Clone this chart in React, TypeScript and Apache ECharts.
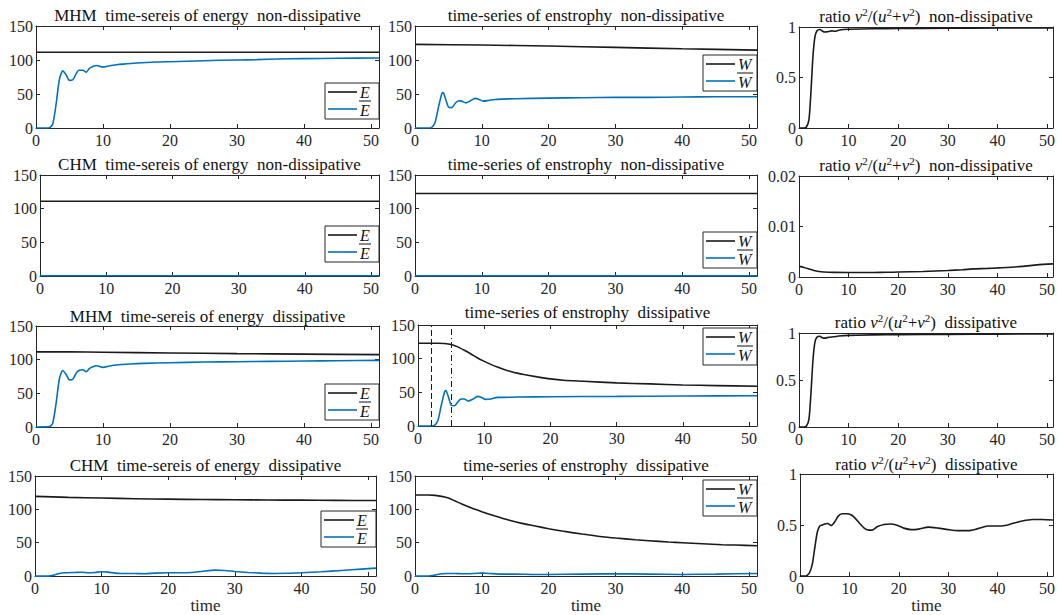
import React, { useEffect, useRef } from 'react';
import * as echarts from 'echarts';

const XMAX = 51.2;
const X_TICK_STEP = 10;

// ---------- Row 1: non-dissipative MHM ----------
const mhmNdE = [[0, 111.3], [XMAX, 111.3]];
const mhmNdEbar = [[0, 0], [1, 0], [2, 0.5], [2.5, 6], [3, 35], [3.5, 72], [4, 84], [4.5, 78], [5, 70], [5.5, 71], [6, 80], [6.4, 85], [7, 85], [7.5, 82], [8, 88], [9, 92], [10, 89.5], [11, 91.5], [12, 93], [13, 94], [15, 95.5], [18, 97], [20, 97.5], [25, 99], [30, 100], [33, 100.5], [36, 101.5], [40, 102], [45, 102.5], [XMAX, 103]];
const enstNdW = [[0, 123], [10, 122], [20, 120.5], [30, 118.5], [40, 116.5], [XMAX, 114.5]];
const enstNdWbar = [[0, 0], [2, 0], [2.5, 1], [3, 8], [3.5, 30], [4, 50], [4.2, 52], [4.6, 42], [5, 31], [5.5, 30], [6, 36], [6.5, 40], [7, 39.5], [7.6, 37], [8.3, 40], [9, 43.5], [9.6, 42], [10.2, 39.5], [11, 40.5], [12, 42], [13, 42.5], [15, 43], [20, 44], [25, 44.5], [30, 45], [35, 45], [40, 45.5], [45, 46], [XMAX, 46]];
const ratioNd = [[0, 0], [1, 0], [1.5, 0.01], [2, 0.08], [2.4, 0.35], [2.8, 0.7], [3.2, 0.9], [3.6, 0.96], [4.2, 0.975], [4.7, 0.96], [5.2, 0.95], [6, 0.955], [6.6, 0.962], [7.2, 0.958], [8, 0.968], [9, 0.975], [10, 0.978], [15, 0.983], [20, 0.985], [30, 0.988], [40, 0.99], [XMAX, 0.99]];

// ---------- Row 2: non-dissipative CHM ----------
const chmNdE = [[0, 111], [XMAX, 111]];
const chmNdEbar = [[0, 0.3], [XMAX, 0.3]];
const enstNd2W = [[0, 122.5], [XMAX, 122.5]];
const enstNd2Wbar = [[0, 0.2], [XMAX, 0.2]];
const ratioNd2 = [[0, 0.0021], [1, 0.0019], [2, 0.0016], [3, 0.0013], [4, 0.0011], [5, 0.001], [7, 0.00092], [10, 0.0009], [15, 0.0009], [18, 0.00093], [20, 0.00098], [25, 0.0011], [30, 0.0013], [33, 0.00145], [35, 0.0016], [38, 0.0017], [40, 0.0018], [45, 0.0021], [48, 0.0024], [XMAX, 0.0026]];

// ---------- Row 3: dissipative MHM ----------
const mhmDE = [[0, 111.5], [5, 111.5], [10, 111], [20, 110], [30, 109], [40, 108.3], [XMAX, 107.5]];
const mhmDEbar = [[0, 0], [2, 0.5], [2.5, 6], [3, 35], [3.5, 72], [4, 84], [4.5, 78], [5, 70], [5.5, 71], [6, 80], [6.4, 84], [7, 85], [7.5, 82], [8, 87], [9, 91], [10, 88.5], [11, 90.5], [12, 92], [14, 93.5], [16, 94.5], [20, 95.5], [25, 96.5], [30, 97], [35, 97.5], [40, 98], [45, 98.5], [XMAX, 99]];
const enstDW = [[0, 123], [3, 123], [4, 122.5], [5, 121], [6, 117.5], [7, 112.5], [8, 107], [9, 101], [10, 96], [11, 91.5], [12, 87.5], [13, 84], [14, 81], [15, 78.5], [16, 76.5], [18, 73], [20, 70], [22, 68], [25, 66.5], [30, 64], [35, 62.5], [40, 61], [45, 60], [XMAX, 59]];
const enstDWbar = [[0, 0], [2, 0], [2.5, 1], [3, 8], [3.5, 30], [4, 50], [4.2, 52.5], [4.6, 43], [5, 31], [5.5, 30], [6, 35.5], [6.5, 40], [7, 40], [7.6, 37], [8.3, 40], [9, 44], [9.6, 42.5], [10.2, 39.5], [11, 40], [12, 42.5], [13, 42.5], [15, 43], [20, 43.5], [30, 44], [40, 44.5], [XMAX, 45]];
const ratioD = [[0, 0], [1, 0], [1.5, 0.01], [2, 0.08], [2.4, 0.35], [2.8, 0.7], [3.2, 0.9], [3.6, 0.955], [4.2, 0.965], [4.7, 0.95], [5.2, 0.945], [6, 0.955], [7, 0.96], [8, 0.968], [10, 0.975], [15, 0.98], [20, 0.983], [30, 0.985], [40, 0.988], [XMAX, 0.99]];
const markTimes = [2, 5];

// ---------- Row 4: dissipative CHM ----------
const chmDE = [[0, 119.5], [5, 118], [10, 117], [15, 116], [20, 115.3], [25, 114.8], [30, 114.4], [35, 114], [40, 113.8], [45, 113.5], [XMAX, 113.2]];
const chmDEbar = [[0, 0], [2, 0], [2.8, 1.5], [3.5, 3.5], [4.5, 5], [6, 5.5], [7, 5.8], [8, 5], [9, 5.5], [10, 6.5], [11, 6], [12, 4.5], [13, 4], [15, 4], [16.5, 3.5], [18, 4.5], [20, 5], [22, 5], [23.5, 5.5], [25, 7], [27, 9], [28.5, 8.5], [30, 7], [32, 5.5], [34, 4.5], [36, 4], [38, 4.2], [40, 5], [43, 6.5], [46, 8.5], [49, 10.5], [XMAX, 12]];
const enstD4W = [[0, 121.5], [2, 121.5], [3, 121], [4, 119.5], [5, 117], [6, 112.5], [7, 108], [8, 104], [9, 100], [10, 96.5], [12, 90], [14, 84], [16, 79], [18, 75], [20, 71], [22, 67.5], [25, 63], [28, 59], [30, 57], [33, 54.5], [35, 53], [38, 51], [40, 50], [43, 48.5], [46, 47], [48, 46.5], [XMAX, 45.5]];
const enstD4Wbar = [[0, 0], [2, 0], [3, 1.5], [4, 3.5], [5, 4], [6, 4], [7, 3.5], [8, 3.5], [9, 4], [10, 4.5], [11, 4], [13, 3], [15, 3], [18, 2.5], [20, 2.5], [25, 3], [30, 3.5], [35, 3], [40, 2.5], [45, 3], [XMAX, 4]];
const ratioD4 = [[0, 0], [1, 0], [1.5, 0.01], [2, 0.04], [2.5, 0.12], [3, 0.28], [3.5, 0.43], [4, 0.49], [4.5, 0.5], [5, 0.51], [5.6, 0.515], [6.3, 0.495], [7, 0.53], [7.7, 0.585], [8.5, 0.61], [9.5, 0.61], [10.3, 0.6], [11, 0.575], [12, 0.52], [13, 0.47], [14, 0.45], [14.8, 0.455], [15.7, 0.485], [17, 0.505], [18.3, 0.51], [19.5, 0.5], [21, 0.47], [22.5, 0.455], [24, 0.46], [26, 0.48], [28, 0.47], [30, 0.455], [32, 0.445], [34, 0.445], [36, 0.465], [38, 0.49], [40, 0.49], [41.5, 0.495], [43, 0.515], [45, 0.54], [47, 0.555], [49, 0.555], [XMAX, 0.55]];

// ---------- titles ----------
const titleEnergyMHMnd = 'MHM  time-sereis of energy  non-dissipative';
const titleEnstNd = 'time-series of enstrophy  non-dissipative';
const titleRatioNd = 'ratio {i|v}{s|2}/({i|u}{s|2}+{i|v}{s|2})  non-dissipative';
const titleEnergyCHMnd = 'CHM  time-sereis of energy  non-dissipative';
const titleEnergyMHMd = 'MHM  time-sereis of energy  dissipative';
const titleEnstD = 'time-series of enstrophy  dissipative';
const titleRatioD = 'ratio {i|v}{s|2}/({i|u}{s|2}+{i|v}{s|2})  dissipative';
const titleEnergyCHMd = 'CHM  time-sereis of energy  dissipative';
const legendE = ['E', 'E'];
const legendW = ['W', 'W'];

const BLACK = '#1a1a1a';
const BLUE = '#0072BD';
const AXIS = '#262626';
const FONT = "'Liberation Serif', serif";

type Panel = {
  box: [number, number, number, number];
  ymax: number;
  yint: number;
  title: string;
  titleY: number;
  lines: { data: number[][]; color: string }[];
  legend?: { x: number; y: number; w: number; h: number; labels: string[] };
  marks?: boolean;
  xname?: boolean;
};

const panels: Panel[] = [
  { box: [36, 26, 379, 128], ymax: 150, yint: 50, title: titleEnergyMHMnd, titleY: 15, lines: [{ data: mhmNdE, color: BLACK }, { data: mhmNdEbar, color: BLUE }], legend: { x: 325, y: 83, w: 54, h: 36, labels: legendE } },
  { box: [415, 26, 757, 128], ymax: 150, yint: 50, title: titleEnstNd, titleY: 15, lines: [{ data: enstNdW, color: BLACK }, { data: enstNdWbar, color: BLUE }], legend: { x: 703, y: 55, w: 54, h: 36, labels: legendW } },
  { box: [799, 27, 1053, 128], ymax: 1, yint: 0.5, title: titleRatioNd, titleY: 16, lines: [{ data: ratioNd, color: BLACK }] },
  { box: [40, 175, 379, 276], ymax: 150, yint: 50, title: titleEnergyCHMnd, titleY: 164, lines: [{ data: chmNdE, color: BLACK }, { data: chmNdEbar, color: BLUE }], legend: { x: 325, y: 226, w: 54, h: 36, labels: legendE } },
  { box: [415, 175, 757, 276], ymax: 150, yint: 50, title: titleEnstNd, titleY: 164, lines: [{ data: enstNd2W, color: BLACK }, { data: enstNd2Wbar, color: BLUE }], legend: { x: 703, y: 232, w: 54, h: 36, labels: legendW } },
  { box: [799, 176, 1053, 277], ymax: 0.02, yint: 0.01, title: titleRatioNd, titleY: 165, lines: [{ data: ratioNd2, color: BLACK }] },
  { box: [36, 326, 379, 427], ymax: 150, yint: 50, title: titleEnergyMHMd, titleY: 316, lines: [{ data: mhmDE, color: BLACK }, { data: mhmDEbar, color: BLUE }], legend: { x: 325, y: 384, w: 54, h: 36, labels: legendE } },
  { box: [418, 325, 757, 426], ymax: 150, yint: 50, title: titleEnstD, titleY: 312, lines: [{ data: enstDW, color: BLACK }, { data: enstDWbar, color: BLUE }], legend: { x: 703, y: 328, w: 54, h: 37, labels: legendW }, marks: true },
  { box: [799, 333, 1053, 427], ymax: 1, yint: 0.5, title: titleRatioD, titleY: 322, lines: [{ data: ratioD, color: BLACK }] },
  { box: [35, 476, 376, 577], ymax: 150, yint: 50, title: titleEnergyCHMd, titleY: 465, lines: [{ data: chmDE, color: BLACK }, { data: chmDEbar, color: BLUE }], legend: { x: 321, y: 511, w: 55, h: 36, labels: legendE }, xname: true },
  { box: [415, 476, 757, 577], ymax: 150, yint: 50, title: titleEnstD, titleY: 465, lines: [{ data: enstD4W, color: BLACK }, { data: enstD4Wbar, color: BLUE }], legend: { x: 703, y: 480, w: 54, h: 36, labels: legendW }, xname: true },
  { box: [800, 474, 1053, 577], ymax: 1, yint: 0.5, title: titleRatioD, titleY: 464, lines: [{ data: ratioD4, color: BLACK }], xname: true },
];

function buildOption() {
  const grid: any[] = [];
  const xAxis: any[] = [];
  const yAxis: any[] = [];
  const series: any[] = [];
  const title: any[] = [];
  const graphic: any[] = [];
  const axisLine = { show: true, onZero: false, lineStyle: { color: AXIS, width: 1 } };
  const axisTick = { show: true, inside: true, length: 4, lineStyle: { color: AXIS } };
  const labelStyle = { fontFamily: FONT, fontSize: 16, color: AXIS };

  panels.forEach((p, i) => {
    const [l, t, r, b] = p.box;
    grid.push({ left: l, top: t, width: r - l, height: b - t, show: false });
    xAxis.push({
      gridIndex: i, type: 'value', position: 'bottom', min: 0, max: XMAX, interval: X_TICK_STEP,
      axisLine, axisTick, splitLine: { show: false },
      axisLabel: { ...labelStyle, margin: 4, formatter: (v: number) => (Math.abs(v % 10) < 1e-9 ? String(v) : '') },
      name: p.xname ? 'time' : '', nameLocation: 'middle', nameGap: 19,
      nameTextStyle: { fontFamily: FONT, fontSize: 17, color: AXIS },
    });
    xAxis.push({
      gridIndex: i, type: 'value', position: 'top', min: 0, max: XMAX, interval: X_TICK_STEP,
      axisLine, axisTick, splitLine: { show: false }, axisLabel: { show: false },
    });
    yAxis.push({
      gridIndex: i, type: 'value', position: 'left', min: 0, max: p.ymax, interval: p.yint,
      axisLine, axisTick, splitLine: { show: false },
      axisLabel: { ...labelStyle, margin: 3 },
    });
    yAxis.push({
      gridIndex: i, type: 'value', position: 'right', min: 0, max: p.ymax, interval: p.yint,
      axisLine, axisTick, splitLine: { show: false }, axisLabel: { show: false },
    });
    p.lines.forEach((ln, k) => {
      const s: any = {
        type: 'line', xAxisIndex: 2 * i, yAxisIndex: 2 * i, data: ln.data,
        showSymbol: false, symbol: 'none', smooth: 0.25,
        lineStyle: { color: ln.color, width: 1.6 }, z: 3 + k,
      };
      if (p.marks && k === 0) {
        s.markLine = {
          silent: true, symbol: 'none', label: { show: false },
          data: [
            { xAxis: markTimes[0], lineStyle: { color: BLACK, width: 1, type: [6, 3] } },
            { xAxis: markTimes[1], lineStyle: { color: BLACK, width: 1, type: [6, 3, 1, 3] } },
          ],
        };
      }
      series.push(s);
    });
    title.push({
      text: p.title,
      left: (l + r) / 2, top: p.titleY - 10, textAlign: 'center', padding: 0,
      textStyle: {
        fontFamily: FONT, fontSize: 17, fontWeight: 'normal', color: '#111', lineHeight: 20,
        rich: {
          i: { fontFamily: FONT, fontSize: 17, fontStyle: 'italic', color: '#111', lineHeight: 20 },
          s: { fontFamily: FONT, fontSize: 11, color: '#111', verticalAlign: 'top', lineHeight: 20 },
        },
      },
    });
    if (p.legend) {
      const lg = p.legend;
      const y1 = lg.y + 9;
      const y2 = lg.y + 26;
      const lx1 = lg.x + 3;
      const lx2 = lg.x + lg.w - 22;
      const tx = lg.x + lg.w - 19;
      graphic.push({ type: 'rect', shape: { x: lg.x, y: lg.y, width: lg.w, height: lg.h }, style: { fill: '#fff', stroke: AXIS, lineWidth: 1 }, z: 100 });
      graphic.push({ type: 'line', shape: { x1: lx1, y1: y1, x2: lx2, y2: y1 }, style: { stroke: BLACK, lineWidth: 1.6 }, z: 101 });
      graphic.push({ type: 'line', shape: { x1: lx1, y1: y2, x2: lx2, y2: y2 }, style: { stroke: BLUE, lineWidth: 1.6 }, z: 101 });
      graphic.push({ type: 'text', x: tx, y: y1, style: { text: lg.labels[0], font: 'italic 16px ' + FONT, fill: '#111', textAlign: 'left', textVerticalAlign: 'middle', align: 'left', verticalAlign: 'middle' }, z: 101 });
      graphic.push({ type: 'text', x: tx, y: y2 + 1, style: { text: lg.labels[1], font: 'italic 16px ' + FONT, fill: '#111', textAlign: 'left', textVerticalAlign: 'middle', align: 'left', verticalAlign: 'middle' }, z: 101 });
      graphic.push({ type: 'line', shape: { x1: tx - 1, y1: y2 - 8, x2: tx + (lg.labels[1] === 'W' ? 15 : 11), y2: y2 - 8 }, style: { stroke: '#111', lineWidth: 1 }, z: 101 });
    }
  });

  return { animation: false, backgroundColor: '#fff', grid, xAxis, yAxis, series, title, graphic };
}

export default function App() {
  const ref = useRef<HTMLDivElement>(null);
  useEffect(() => {
    if (!ref.current) return;
    const chart = echarts.init(ref.current, null, { renderer: 'svg' });
    chart.setOption(buildOption() as any);
    return () => chart.dispose();
  }, []);
  return <div ref={ref} style={{ position: 'absolute', left: 0, top: 0, width: 1058, height: 615, background: '#fff' }} />;
}
